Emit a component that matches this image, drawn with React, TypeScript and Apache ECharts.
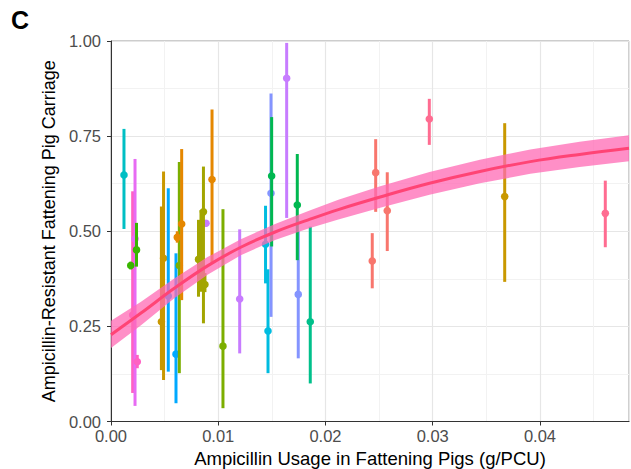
import React, { useEffect, useRef } from "react";
import * as echarts from "echarts";

// ---- Data ----
// Farm-level estimates: usage (g/PCU), resistant carriage estimate, lower and upper interval, group index
const usage = [
  0.00121, 0.00202, 0.00224, 0.00245, 0.00238, 0.00184,
  0.0047, 0.0049, 0.00534, 0.00606, 0.00637, 0.00618, 0.00659,
  0.00886, 0.00816, 0.00839, 0.00862, 0.00876, 0.00942, 0.01044, 0.012,
  0.01441, 0.01464, 0.01492, 0.01498, 0.01638, 0.01746, 0.01737, 0.01858,
  0.02436, 0.02468, 0.02576, 0.02968, 0.03671, 0.04609,
];
const carriage = [
  0.648, 0.28, 0.48, 0.157, 0.451, 0.41,
  0.262, 0.429, 0.33, 0.177, 0.41, 0.484, 0.519,
  0.521, 0.426, 0.37, 0.551, 0.36, 0.636, 0.198, 0.322,
  0.466, 0.238, 0.6, 0.645, 0.902, 0.334, 0.569, 0.262,
  0.422, 0.654, 0.554, 0.795, 0.591, 0.547,
];
const lower = [
  0.506, 0.075, 0.041, 0.14, 0.407, 0.4,
  0.135, 0.109, 0.131, 0.048, 0.127, 0.47, 0.319,
  0.515, 0.328, 0.341, 0.258, 0.34, 0.416, 0.035, 0.179,
  0.363, 0.127, 0.275, 0.46, 0.535, 0.166, 0.424, 0.1,
  0.35, 0.551, 0.448, 0.727, 0.367, 0.458,
];
const upper = [
  0.769, 0.605, 0.69, 0.175, 0.522, 0.42,
  0.565, 0.657, 0.613, 0.442, 0.682, 0.5, 0.716,
  0.527, 0.53, 0.556, 0.67, 0.39, 0.82, 0.558, 0.505,
  0.567, 0.4, 0.862, 0.8, 0.995, 0.5, 0.703, 0.512,
  0.495, 0.742, 0.655, 0.848, 0.784, 0.633,
];
const group = [
  0, 1, 2, 1, 3, 3,
  4, 4, 5, 5, 6, 7, 7,
  9, 8, 8, 8, 8, 7, 6, 9,
  10, 10, 11, 12, 9, 11, 12, 13,
  14, 14, 14, 15, 4, 15,
];
const groupNames = [
  "Group 1", "Group 2", "Group 3", "Group 4", "Group 5", "Group 6", "Group 7", "Group 8",
  "Group 9", "Group 10", "Group 11", "Group 12", "Group 13", "Group 14", "Group 15", "Group 16",
];

// Fitted curve and its confidence band
const fitUsage = [0, 0.0028, 0.0059, 0.009, 0.0121, 0.0153, 0.0184, 0.0212, 0.0251, 0.0297, 0.0344, 0.0391, 0.0437, 0.0483];
const fitCarriage = [0.228, 0.285, 0.35, 0.409, 0.458, 0.498, 0.53, 0.557, 0.59, 0.626, 0.657, 0.683, 0.702, 0.718];
const fitLower = [0.193, 0.253, 0.324, 0.386, 0.437, 0.477, 0.507, 0.531, 0.562, 0.596, 0.626, 0.651, 0.669, 0.684];
const fitUpper = [0.265, 0.315, 0.376, 0.432, 0.479, 0.519, 0.553, 0.583, 0.618, 0.656, 0.688, 0.715, 0.735, 0.752];

const xTickLabels = ["0.00", "0.01", "0.02", "0.03", "0.04"];
const yTickLabels = ["0.00", "0.25", "0.50", "0.75", "1.00"];

// ---- Styles ----
const palette = [
  "#00BFC4", "#FF61C3", "#E76BF3", "#39B600", "#C99800", "#00A9FF", "#7CAE00", "#E58700",
  "#A3A500", "#C77CFF", "#00BCE0", "#8494FF", "#00B850", "#00C08B", "#F8766D", "#FF6C91",
];
const FONT = "'Liberation Sans', Arial, Helvetica, sans-serif";

export default function App() {
  const ref = useRef<HTMLDivElement>(null);

  useEffect(() => {
    if (!ref.current) return;
    const chart = echarts.init(ref.current, undefined, { renderer: "svg" });

    const barData = usage.map((x, i) => [x, carriage[i], lower[i], upper[i], group[i]]);
    const bandData = fitUsage.map((x, i) => [x, fitLower[i], fitUpper[i]]);
    const lineData = fitUsage.map((x, i) => [x, fitCarriage[i]]);

    chart.setOption({
      animation: false,
      textStyle: { fontFamily: FONT },
      graphic: [
        {
          type: "text",
          left: 11,
          top: 7,
          style: { text: "C", font: `bold 25px ${FONT}`, fill: "#000" },
        },
      ],
      grid: {
        left: 111,
        right: 2,
        top: 41,
        bottom: 47.5,
        show: true,
        borderColor: "#9A9A9A",
        borderWidth: 1,
        backgroundColor: "#fff",
        containLabel: false,
        outerBoundsMode: "none",
      },
      xAxis: {
        type: "value",
        min: 0,
        max: 0.0483,
        interval: 0.01,
        name: "Ampicillin Usage in Fattening Pigs (g/PCU)",
        nameLocation: "middle",
        nameGap: 27,
        nameTextStyle: { fontSize: 18.5, color: "#000", fontFamily: FONT },
        axisLine: { show: true, lineStyle: { color: "#333", width: 1 } },
        axisTick: { show: true, length: 4, lineStyle: { color: "#333" } },
        axisLabel: {
          fontSize: 16.5,
          color: "#4D4D4D",
          margin: 6,
          showMaxLabel: false,
          fontFamily: FONT,
          formatter: (v: number) => xTickLabels[Math.round(v / 0.01)] ?? "",
        },
        splitLine: { show: true, lineStyle: { color: "#E6E6E6", width: 1.2 } },
        minorTick: { show: false, splitNumber: 2 },
        minorSplitLine: { show: true, lineStyle: { color: "#F2F2F2", width: 1 } },
      },
      yAxis: {
        type: "value",
        min: 0,
        max: 1,
        interval: 0.25,
        name: "Ampicillin-Resistant Fattening Pig Carriage",
        nameLocation: "middle",
        nameRotate: 90,
        nameGap: 45,
        nameTextStyle: { fontSize: 18, color: "#000", fontFamily: FONT },
        axisLine: { show: true, lineStyle: { color: "#333", width: 1 } },
        axisTick: { show: true, length: 4, lineStyle: { color: "#333" } },
        axisLabel: {
          fontSize: 16.5,
          color: "#4D4D4D",
          margin: 10,
          fontFamily: FONT,
          formatter: (v: number) => yTickLabels[Math.round(v / 0.25)] ?? "",
        },
        splitLine: { show: true, lineStyle: { color: "#E6E6E6", width: 1.2 } },
        minorTick: { show: false, splitNumber: 2 },
        minorSplitLine: { show: true, lineStyle: { color: "#F2F2F2", width: 1 } },
      },
      series: [
        {
          type: "custom",
          name: "Farms",
          data: barData,
          encode: { x: 0, y: 1 },
          z: 2,
          renderItem: (_params: any, api: any) => {
            const x = api.value(0);
            const est = api.value(1);
            const lo = api.value(2);
            const hi = api.value(3);
            const g = api.value(4);
            const pLo = api.coord([x, lo]);
            const pHi = api.coord([x, hi]);
            const pE = api.coord([x, est]);
            const color = palette[g];
            return {
              type: "group",
              name: groupNames[g],
              children: [
                {
                  type: "line",
                  shape: { x1: pLo[0], y1: pLo[1], x2: pHi[0], y2: pHi[1] },
                  style: { stroke: color, lineWidth: 3 },
                },
                {
                  type: "circle",
                  shape: { cx: pE[0], cy: pE[1], r: 3.8 },
                  style: { fill: color },
                },
              ],
            };
          },
        },
        {
          type: "custom",
          name: "Band",
          data: bandData,
          encode: { x: 0, y: [1, 2] },
          z: 3,
          silent: true,
          renderItem: (params: any, api: any) => {
            if (params.dataIndex !== 0) return null;
            const pts: number[][] = [];
            for (let i = 0; i < fitUsage.length; i++) pts.push(api.coord([fitUsage[i], fitUpper[i]]));
            for (let i = fitUsage.length - 1; i >= 0; i--) pts.push(api.coord([fitUsage[i], fitLower[i]]));
            return {
              type: "polygon",
              shape: { points: pts },
              style: { fill: "rgba(255,105,180,0.75)" },
            };
          },
        },
        {
          type: "line",
          name: "Fit",
          data: lineData,
          smooth: 0.4,
          showSymbol: false,
          symbol: "none",
          z: 4,
          lineStyle: { color: "#FF4475", width: 3 },
        },
      ],
    });

    return () => chart.dispose();
  }, []);

  return (
    <div
      ref={ref}
      style={{ position: "absolute", left: 0, top: 0, width: 631, height: 469, background: "#fff" }}
    />
  );
}
